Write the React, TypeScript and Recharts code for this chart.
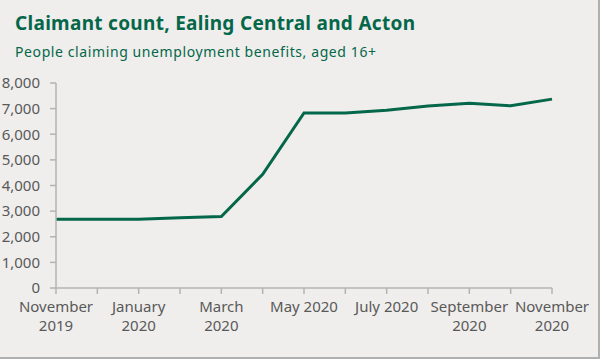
import React from 'react';
import { LineChart, Line, XAxis, YAxis } from 'recharts';

const months = [
  'Nov 2019', 'Dec 2019', 'Jan 2020', 'Feb 2020', 'Mar 2020', 'Apr 2020', 'May 2020',
  'Jun 2020', 'Jul 2020', 'Aug 2020', 'Sep 2020', 'Oct 2020', 'Nov 2020',
];
const tickLabels = [
  'November\n2019', '', 'January\n2020', '', 'March\n2020', '', 'May 2020',
  '', 'July 2020', '', 'September\n2020', '', 'November\n2020',
];
const claimants = [2680, 2680, 2680, 2740, 2790, 4440, 6830, 6830, 6940, 7100, 7210, 7110, 7370];
const yTicks = [0, 1000, 2000, 3000, 4000, 5000, 6000, 7000, 8000];

const data = months.map((m, i) => ({ month: m, label: tickLabels[i], value: claimants[i] }));

const GREEN = '#05674a';
const AXIS = '#b3b3b3';
const TEXT = '#595959';
const FONT = '"Noto Sans", sans-serif';

function MonthTick({ x, y, index }: any) {
  const label = tickLabels[index] || '';
  if (!label) return null;
  const lines = label.split('\n');
  return (
    <text x={x} y={y} textAnchor="middle" fill={TEXT} fontSize={15} fontFamily={FONT}>
      {lines.map((l, i) => (
        <tspan key={i} x={x} dy={i === 0 ? 16 : 19}>{l}</tspan>
      ))}
    </text>
  );
}

export default function App() {
  return (
    <div style={{
      position: 'absolute', left: 0, top: 0, width: 598, height: 357,
      background: '#efeeec', borderRight: '2px solid #b0b0b0', borderBottom: '2px solid #b0b0b0',
    }}>
      <div style={{
        position: 'absolute', left: 15, top: 10, fontFamily: FONT, fontWeight: 700,
        fontSize: 19, letterSpacing: 0.3, color: GREEN, whiteSpace: 'nowrap',
      }}>
        Claimant count, Ealing Central and Acton
      </div>
      <div style={{
        position: 'absolute', left: 15, top: 42, fontFamily: FONT,
        fontSize: 14, letterSpacing: 0.6, color: GREEN, whiteSpace: 'nowrap',
      }}>
        People claiming unemployment benefits, aged 16+
      </div>
      <LineChart
        width={598}
        height={357}
        data={data}
        margin={{ top: 83, right: 46, left: 0, bottom: 19 }}
        style={{ position: 'absolute', left: 0, top: 0 }}
      >
        <XAxis
          dataKey="month"
          interval={0}
          tick={<MonthTick />}
          tickSize={6}
          height={50}
          stroke={AXIS}
          strokeWidth={1.5}
        />
        <YAxis
          domain={[0, 8000]}
          ticks={yTicks}
          interval={0}
          width={56}
          tickSize={6}
          tickMargin={10}
          stroke={AXIS}
          strokeWidth={1.5}
          tick={{ fill: TEXT, fontSize: 15, fontFamily: FONT }}
          tickFormatter={(v: number) => v.toLocaleString('en-GB')}
        />
        <Line
          type="linear"
          dataKey="value"
          stroke={GREEN}
          strokeWidth={3}
          dot={false}
          isAnimationActive={false}
        />
      </LineChart>
    </div>
  );
}
